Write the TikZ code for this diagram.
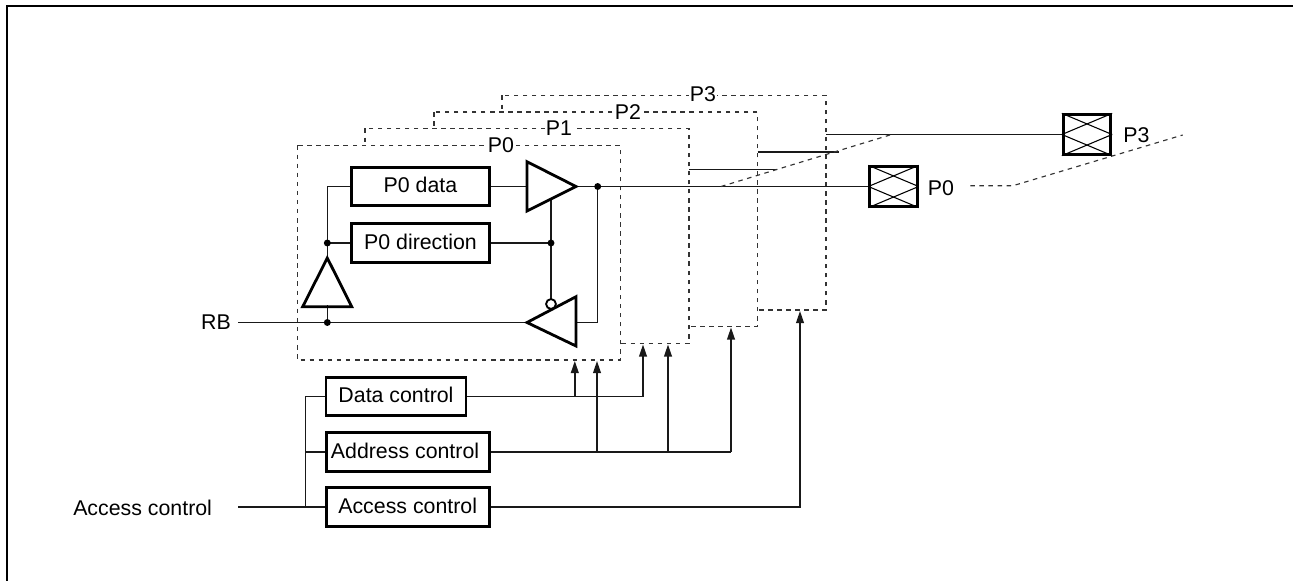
\documentclass[tikz,border=0pt]{standalone}
\usepackage{fontspec}
\setmainfont{Liberation Sans}
\usetikzlibrary{arrows.meta}
\tikzset{
  x=0.75pt,y=-0.75pt,
  wire/.style={line width=1.15pt,black!90},
  cbox/.style={draw,line width=2.2pt,rectangle,inner sep=0pt,font=\fontsize{16pt}{18pt}\selectfont},
  portbox/.style={draw=black!80,line width=0.85pt,dash pattern=on 3.4pt off 3.4pt},
  lab/.style={font=\fontsize{16pt}{18pt}\selectfont,inner sep=1pt},
  amp/.style={draw,line width=2.1pt,line join=miter},
  dot/.style={circle,fill=black,inner sep=0pt,minimum size=5.2pt},
  arr/.style={wire,-{Triangle[length=9pt,width=5.8pt]}},
  pad/.style={draw,line width=2.2pt,rectangle,minimum width=35.5pt,minimum height=29.5pt,inner sep=0pt}
}
\newcommand{\up}[1]{\raisebox{2.2pt}{#1}}
\begin{document}
\begin{tikzpicture}
\useasboundingbox (0,0) rectangle (1293,581);
\draw[line width=1.5pt] (7,581) -- (7,6) -- (1293,6);
% port outlines
\draw[portbox,fill=white] (502,95.5) rectangle (826,310);
\draw[portbox,fill=white] (434,112) rectangle (757.5,326.5);
\draw[portbox,fill=white] (365,128.5) rectangle (689,343.5);
\draw[portbox,fill=white] (297.5,145.5) rectangle (620.5,360);
\node[lab,fill=white] (p3t) at (703,94.5) {P3};
\node[lab,fill=white] (p2t) at (628,112) {P2};
\node[lab,fill=white] (p1t) at (559,128.5) {P1};
\node[lab,fill=white] (p0t) at (501,145) {P0};
% boxes
\node[cbox,minimum width=104pt,minimum height=29pt] (data) at (420.5,186.5) {\up{P0 data}};
\node[cbox,minimum width=104pt,minimum height=29pt] (dir) at (420.5,243) {\up{P0 direction}};
\node[cbox,minimum width=105pt,minimum height=29pt] (dc) at (396,396.5) {\up{Data control}};
\node[cbox,minimum width=122.5pt,minimum height=29pt] (ad) at (407.7,452) {\up{\hspace{-4pt}Address control}};
\node[cbox,minimum width=122.5pt,minimum height=29pt] (ac) at (407.7,507) {\up{Access control}};
% pads
\node[pad] (pad0) at (893.5,186.5) {};
\node[pad] (pad3) at (1087,134.5) {};
\foreach \p in {pad0,pad3}{
  \draw[line width=0.8pt] (\p.north west) -- (\p.east);
  \draw[line width=0.8pt] (\p.north east) -- (\p.west);
  \draw[line width=0.8pt] (\p.south west) -- (\p.east);
  \draw[line width=0.8pt] (\p.south east) -- (\p.west);
}
\node[lab,anchor=west,inner sep=0pt] (p0l) at (927.5,188) {P0};
\node[lab,anchor=west,inner sep=0pt] (p3l) at (1123,135) {P3};
\node[lab,anchor=east,inner sep=0pt] (rb) at (231,322.3) {RB};
\node[lab,anchor=west,inner sep=0pt] (acl) at (73,508) {Access control};
% coordinates
\coordinate (a1w) at (527,186.5);
\coordinate (a1e) at (576,186.5);
\coordinate (j1) at (597.7,186.5);
\coordinate (a2w) at (527,322.5);
\coordinate (a2e) at (576,322.5);
\coordinate (j2) at (327.3,322.5);
\coordinate (j3) at (327.3,243);
\coordinate (j4) at (551,243);
\coordinate (rbs) at (238,322.5);
\coordinate (acs) at (238,507);
% wires
\draw[wire] (data.east) -- (a1w);
\draw[wire] (a1e) -- (pad0.west);
\draw[wire] (j1) -- (597.7,322.5) -- (a2e);
\draw[wire] (rbs) -- (a2w);
\draw[wire] (j2) -- (327.3,305);
\draw[wire] (327.3,258) -- (j3) -- (327.3,186.5) -- (data.west);
\draw[wire] (j3) -- (dir.west);
\draw[wire] (dir.east) -- (j4);
\draw[wire] (551,199) -- (j4) -- (551,299);
% amps
\draw[amp] (527,161.7) -- (576,186.5) -- (527,211) -- cycle;
\draw[amp] (576,296.7) -- (527,322.5) -- (576,346) -- cycle;
\draw[amp] (327.3,258) -- (351.7,306.7) -- (302.7,306.7) -- cycle;
\draw[line width=1.4pt,fill=white] (551,304) circle (3.7pt);
\node[dot] at (j1) {};
\node[dot] at (j2) {};
\node[dot] at (j3) {};
\node[dot] at (j4) {};
% right-hand lines
\draw[wire] (689,169.5) -- (777,169.5);
\draw[wire] (757.5,152) -- (838.5,152);
\draw[wire] (826,134.5) -- (pad3.west);
\draw[portbox] (721,186.5) -- (890,135);
\draw[portbox] (970.3,185.7) -- (1013,185.7) -- (1182.7,135);
% control
\draw[wire] (dc.west) -- (305.3,396.5) -- (305.3,507);
\draw[wire] (305.3,452) -- (ad.west);
\draw[wire] (acs) -- (ac.west);
\draw[wire] (dc.east) -- (643,396.5);
\draw[arr] (574.8,396.5) -- (574.8,361);
\draw[arr] (643,396.5) -- (643,344.5);
\draw[wire] (ad.east) -- (731,452);
\draw[arr] (597,452) -- (597,361);
\draw[arr] (668,452) -- (668,344.5);
\draw[arr] (731,452) -- (731,327.5);
\draw[arr] (ac.east) -- (800,507) -- (800,311);
\end{tikzpicture}
\end{document}
